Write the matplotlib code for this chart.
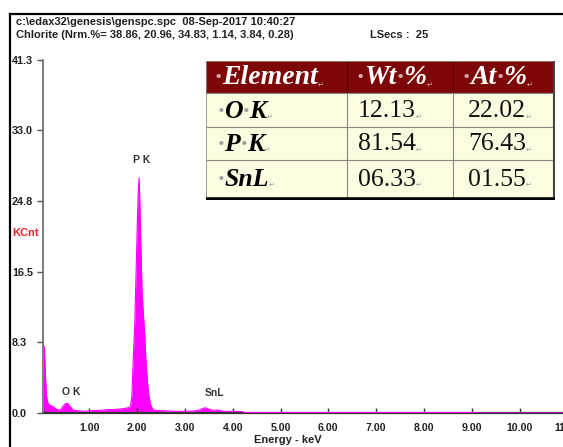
import numpy as np
import matplotlib
matplotlib.use('Agg')
import matplotlib.pyplot as plt
from matplotlib.lines import Line2D
from matplotlib.patches import Rectangle

# spectrum (keV, kilo-counts)
energy = [0.04, 0.06, 0.08, 0.10, 0.12, 0.15, 0.20, 0.25, 0.30, 0.35, 0.40, 0.45,
          0.50, 0.55, 0.60, 0.65, 0.70, 0.80, 0.90, 1.00, 1.10, 1.20, 1.30, 1.40,
          1.50, 1.60, 1.70, 1.80, 1.86, 1.89, 1.92, 1.95, 1.98, 2.00, 2.02, 2.04,
          2.06, 2.08, 2.10, 2.13, 2.16, 2.18, 2.21, 2.24, 2.28, 2.33, 2.40, 2.60,
          2.80, 3.00, 3.20, 3.30, 3.38, 3.44, 3.50, 3.58, 3.66, 3.72, 3.80, 4.00,
          4.20, 4.25, 5.00, 7.00, 9.00, 9.05, 11.00]
counts = [7.9, 7.6, 4.5, 2.2, 1.4, 1.0, 0.85, 0.7, 0.5, 0.35, 0.4, 0.8,
          1.1, 1.1, 0.75, 0.4, 0.3, 0.25, 0.2, 0.25, 0.3, 0.3, 0.35, 0.4,
          0.4, 0.45, 0.5, 0.6, 0.7, 2.0, 6.5, 10.5, 17.0, 21.5, 25.5, 27.5,
          24.0, 19.0, 14.5, 11.5, 9.0, 6.5, 4.0, 2.2, 1.0, 0.4, 0.3, 0.25,
          0.2, 0.2, 0.25, 0.35, 0.55, 0.6, 0.45, 0.3, 0.35, 0.3, 0.2, 0.2,
          0.15, 0.05, 0.05, 0.05, 0.05, 0.0, 0.0]

peak_names = ['O K', 'P K', 'SnL']
peak_x = [0.62, 2.09, 3.61]
peak_y = [2.45, 29.6, 2.3]

ytick_vals = [0.0, 8.26, 16.52, 24.78, 33.04, 41.3]
ytick_labels = ['0.0', '8.3', '16.5', '24.8', '33.0', '41.3']
xtick_vals = [1, 2, 3, 4, 5, 6, 7, 8, 9, 10, 11]
xtick_labels = ['1.00', '2.00', '3.00', '4.00', '5.00', '6.00', '7.00', '8.00',
                '9.00', '10.00', '11.00']

# '·' pieces are Word formatting marks, drawn faint
table_header = [['·', 'Element'], ['·', 'Wt', '·', '%'], ['·', 'At', '·', '%']]
table_elements = [['·', 'O', '·', 'K'], ['·', 'P', '·', 'K'], ['·', 'SnL']]
table_wt = ['12.13', '81.54', '06.33']
table_at = ['22.02', '76.43', '01.55']

W, H = 563, 447
fig = plt.figure(figsize=(W / 100, H / 100), dpi=100)
fig.patch.set_facecolor('white')

def fx(px):
    return px / W

def fy(py):
    return 1 - py / H

sans = 'Liberation Sans'
serif = 'Liberation Serif'
txt = '#222222'

# spectrum axes
ax = fig.add_axes([fx(43), fy(413), fx(567.3 - 43), (413 - 59.5) / H])
ax.set_xlim(0.03, 11.0)
ax.set_ylim(0, 41.3)
ax.fill_between(energy, counts, color='#ff00ff', lw=0)
ax.plot(energy, counts, color='#ff00ff', lw=0.8)

for name, x, y in zip(peak_names, peak_x, peak_y):
    ax.text(x, y, name, ha='center', va='center', fontsize=7.5, fontweight='bold',
            family=sans, color='#333333')

for s in ['top', 'right']:
    ax.spines[s].set_visible(False)
ax.spines['left'].set_color('#666666')
ax.spines['left'].set_linewidth(1.2)
ax.spines['bottom'].set_color('#333333')
ax.spines['bottom'].set_linewidth(1.6)
ax.spines['bottom'].set_zorder(1)

ax.set_yticks(ytick_vals)
ax.set_yticklabels(ytick_labels)
ax.tick_params(axis='y', direction='out', length=4.3, width=1, color='#555555',
               pad=18, labelsize=7.8, labelcolor=txt)
for lab in ax.get_yticklabels():
    lab.set_horizontalalignment('left')
    lab.set_fontweight('bold')
    lab.set_family(sans)

ax.set_xticks(xtick_vals)
ax.set_xticklabels(xtick_labels)
ax.tick_params(axis='x', direction='in', length=3.5, width=1, color='#333333',
               pad=7.5, labelsize=7.6, labelcolor=txt)
for lab in ax.get_xticklabels():
    lab.set_fontweight('bold')
    lab.set_family(sans)
for t in ax.xaxis.get_major_ticks():
    t.label1.set_clip_on(False)

# header / labels
fig.text(fx(16), fy(22), r'c:\edax32\genesis\genspc.spc  08-Sep-2017 10:40:27',
         fontsize=8, fontweight='bold', family=sans, color=txt, va='center')
fig.text(fx(16), fy(35), 'Chlorite (Nrm.%= 38.86, 20.96, 34.83, 1.14, 3.84, 0.28)',
         fontsize=8, fontweight='bold', family=sans, color=txt, va='center')
fig.text(fx(370), fy(35), 'LSecs :  25', fontsize=8, fontweight='bold',
         family=sans, color=txt, va='center')
fig.text(fx(12), fy(233), 'KCnt', fontsize=8, fontweight='bold', family=sans,
         color='#e8202a', va='center')
fig.text(fx(288), fy(440), 'Energy - keV', fontsize=8, fontweight='bold',
         family=sans, color=txt, ha='center', va='center')

# outer frame
fig.add_artist(Line2D([fx(10), fx(563)], [fy(14), fy(14)], color='black', lw=1.6))
fig.add_artist(Line2D([fx(10), fx(10)], [fy(14), fy(447)], color='black', lw=1.6))

# results table
tab = fig.add_axes([fx(206), fy(200), fx(349), 139 / H])
tab.set_xlim(0, 349)
tab.set_ylim(139, 0)
tab.axis('off')
col_edges = [0, 141, 247, 349]
row_edges = [0, 32, 66, 99, 136]
col_text_x = [9, 151, 257]
body_text_x = [12, 152, 262]
header_bg = '#7d0606'
body_bg = '#fdfbe0'
grid_c = '#8a8a8a'

tab.add_patch(Rectangle((0, 0), 349, 32, color=header_bg, lw=0))
tab.add_patch(Rectangle((0, 32), 349, 104, color=body_bg, lw=0))
for xe in col_edges[1:-1]:
    tab.plot([xe, xe], [0, 32], color='#5a0000', lw=0.8)
    tab.plot([xe, xe], [32, 136], color=grid_c, lw=0.8)
for ye in row_edges[1:-1]:
    tab.plot([0, 349], [ye, ye], color=grid_c, lw=0.8)
tab.plot([0, 0, 349, 349], [136, 0, 0, 136], color=grid_c, lw=1.2)
tab.plot([348, 348], [0, 137], color='#444444', lw=1.5)
tab.plot([0, 349], [137.5, 137.5], color='black', lw=2.6)

def mark(t, color):
    tab.annotate('↵', xy=(1, 0.12), xycoords=t, fontsize=5, color=color,
                 family='DejaVu Sans', ha='left', va='bottom')

def pieces(x, y, parts, size, color, faint, **kw):
    # chain text pieces so the formatting dots can be faint
    first = tab.text(x, y, parts[0], fontsize=size, family=serif, va='center',
                     color=faint if parts[0] == '·' else color, **kw)
    prev = first
    for p in parts[1:]:
        prev = tab.annotate(p, xy=(1, 0), xycoords=prev, fontsize=size,
                            family=serif, ha='left', va='bottom',
                            color=faint if p == '·' else color, **kw)
    return prev

for j, h in enumerate(table_header):
    last = pieces(col_text_x[j], 17, h, 20, 'white', '#d8a8a8',
                  fontweight='bold', fontstyle='italic')
    mark(last, '#e0b0b0')

for i in range(3):
    yc = (row_edges[i + 1] + row_edges[i + 2]) / 2 + 1
    last = pieces(body_text_x[0], yc, table_elements[i], 18.5, 'black', '#a0a0a0',
                  fontweight='bold', fontstyle='italic')
    mark(last, '#999999')
    for j, v in ((1, table_wt[i]), (2, table_at[i])):
        t = tab.text(body_text_x[j], yc, v, fontsize=18.5, family=serif,
                     color='#111111', va='center')
        mark(t, '#999999')

fig.savefig('out.png', dpi=100, facecolor='white')
